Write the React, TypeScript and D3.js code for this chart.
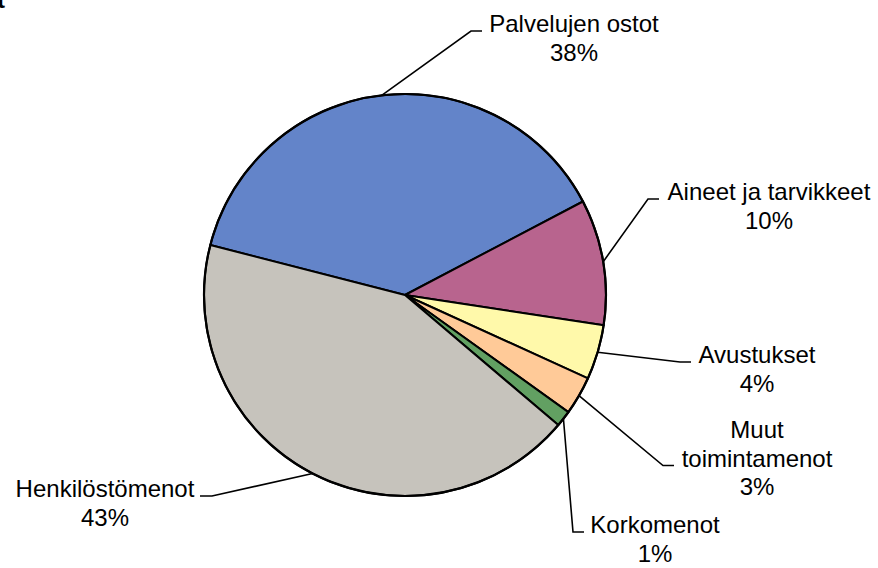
import React from "react";
import * as d3 from "d3";

// share of expenses, percent
const categories = [
  "Palvelujen ostot",
  "Aineet ja tarvikkeet",
  "Avustukset",
  "Muut toimintamenot",
  "Korkomenot",
  "Henkilöstömenot",
];
const shares = [38.3, 10.1, 4.4, 3.1, 1.3, 42.8];
const colors = ["#6384C9", "#B8648E", "#FFF9AA", "#FFCA98", "#62A062", "#C6C3BC"];

// label placement (text centre x, first baseline y, elbow x of the leader, side)
const labelLayout = [
  { cx: 574, y: 32, ex: 471, side: "right", wrap: false },
  { cx: 769, y: 200, ex: 648, side: "right", wrap: false },
  { cx: 757, y: 363, ex: 680, side: "right", wrap: false },
  { cx: 757, y: 438, ex: 663, side: "right", wrap: true },
  { cx: 655, y: 533, ex: 573, side: "right", wrap: false },
  { cx: 105, y: 497, ex: 212, side: "left", wrap: false },
];

const width = 878;
const height = 568;
const cx = 405;
const cy = 295;
const radius = 201;
const lineGap = 28.5;
const font = "'Liberation Sans', Arial, sans-serif";

export default function App() {
  const start = (-75.6 * Math.PI) / 180;
  const pie = d3
    .pie<number>()
    .sort(null)
    .value((d) => d)
    .startAngle(start)
    .endAngle(start + 2 * Math.PI);
  const arcs = pie(shares);
  const arc = d3.arc<d3.PieArcDatum<number>>().innerRadius(0).outerRadius(radius);
  const rim = d3.arc<d3.PieArcDatum<number>>().innerRadius(radius).outerRadius(radius);

  return (
    <svg
      width={width}
      height={height}
      style={{ position: "absolute", left: 0, top: 0, background: "#fff" }}
      fontFamily={font}
    >
      {/* clipped chart title, only its last letter is inside the picture */}
      <text x={5} y={8} textAnchor="end" fontSize={24} fontWeight="bold">
        Menot
      </text>
      <g transform={`translate(${cx},${cy})`}>
        {arcs.map((a, i) => (
          <path key={i} d={arc(a) ?? ""} fill={colors[i]} stroke="#000" strokeWidth={2} strokeLinejoin="round" />
        ))}
        <circle r={radius} fill="none" stroke="#000" strokeWidth={2.2} />
      </g>
      {arcs.map((a, i) => {
        const lay = labelLayout[i];
        const [px, py] = rim.centroid(a);
        const lines = lay.wrap ? categories[i].split(" ") : [categories[i]];
        const all = [...lines, `${Math.round(shares[i])}%`];
        const anchorLine = lay.wrap ? 1 : 0;
        const ly = lay.y + anchorLine * lineGap - 1;
        const ex2 = lay.side === "right" ? lay.ex + 11 : lay.ex - 12;
        return (
          <g key={i}>
            <polyline
              points={`${cx + px},${cy + py} ${lay.ex},${ly} ${ex2},${ly}`}
              fill="none"
              stroke="#000"
              strokeWidth={1.6}
            />
            {all.map((t, j) => (
              <text key={j} x={lay.cx} y={lay.y + j * lineGap} textAnchor="middle" fontSize={24} fill="#000">
                {t}
              </text>
            ))}
          </g>
        );
      })}
    </svg>
  );
}
